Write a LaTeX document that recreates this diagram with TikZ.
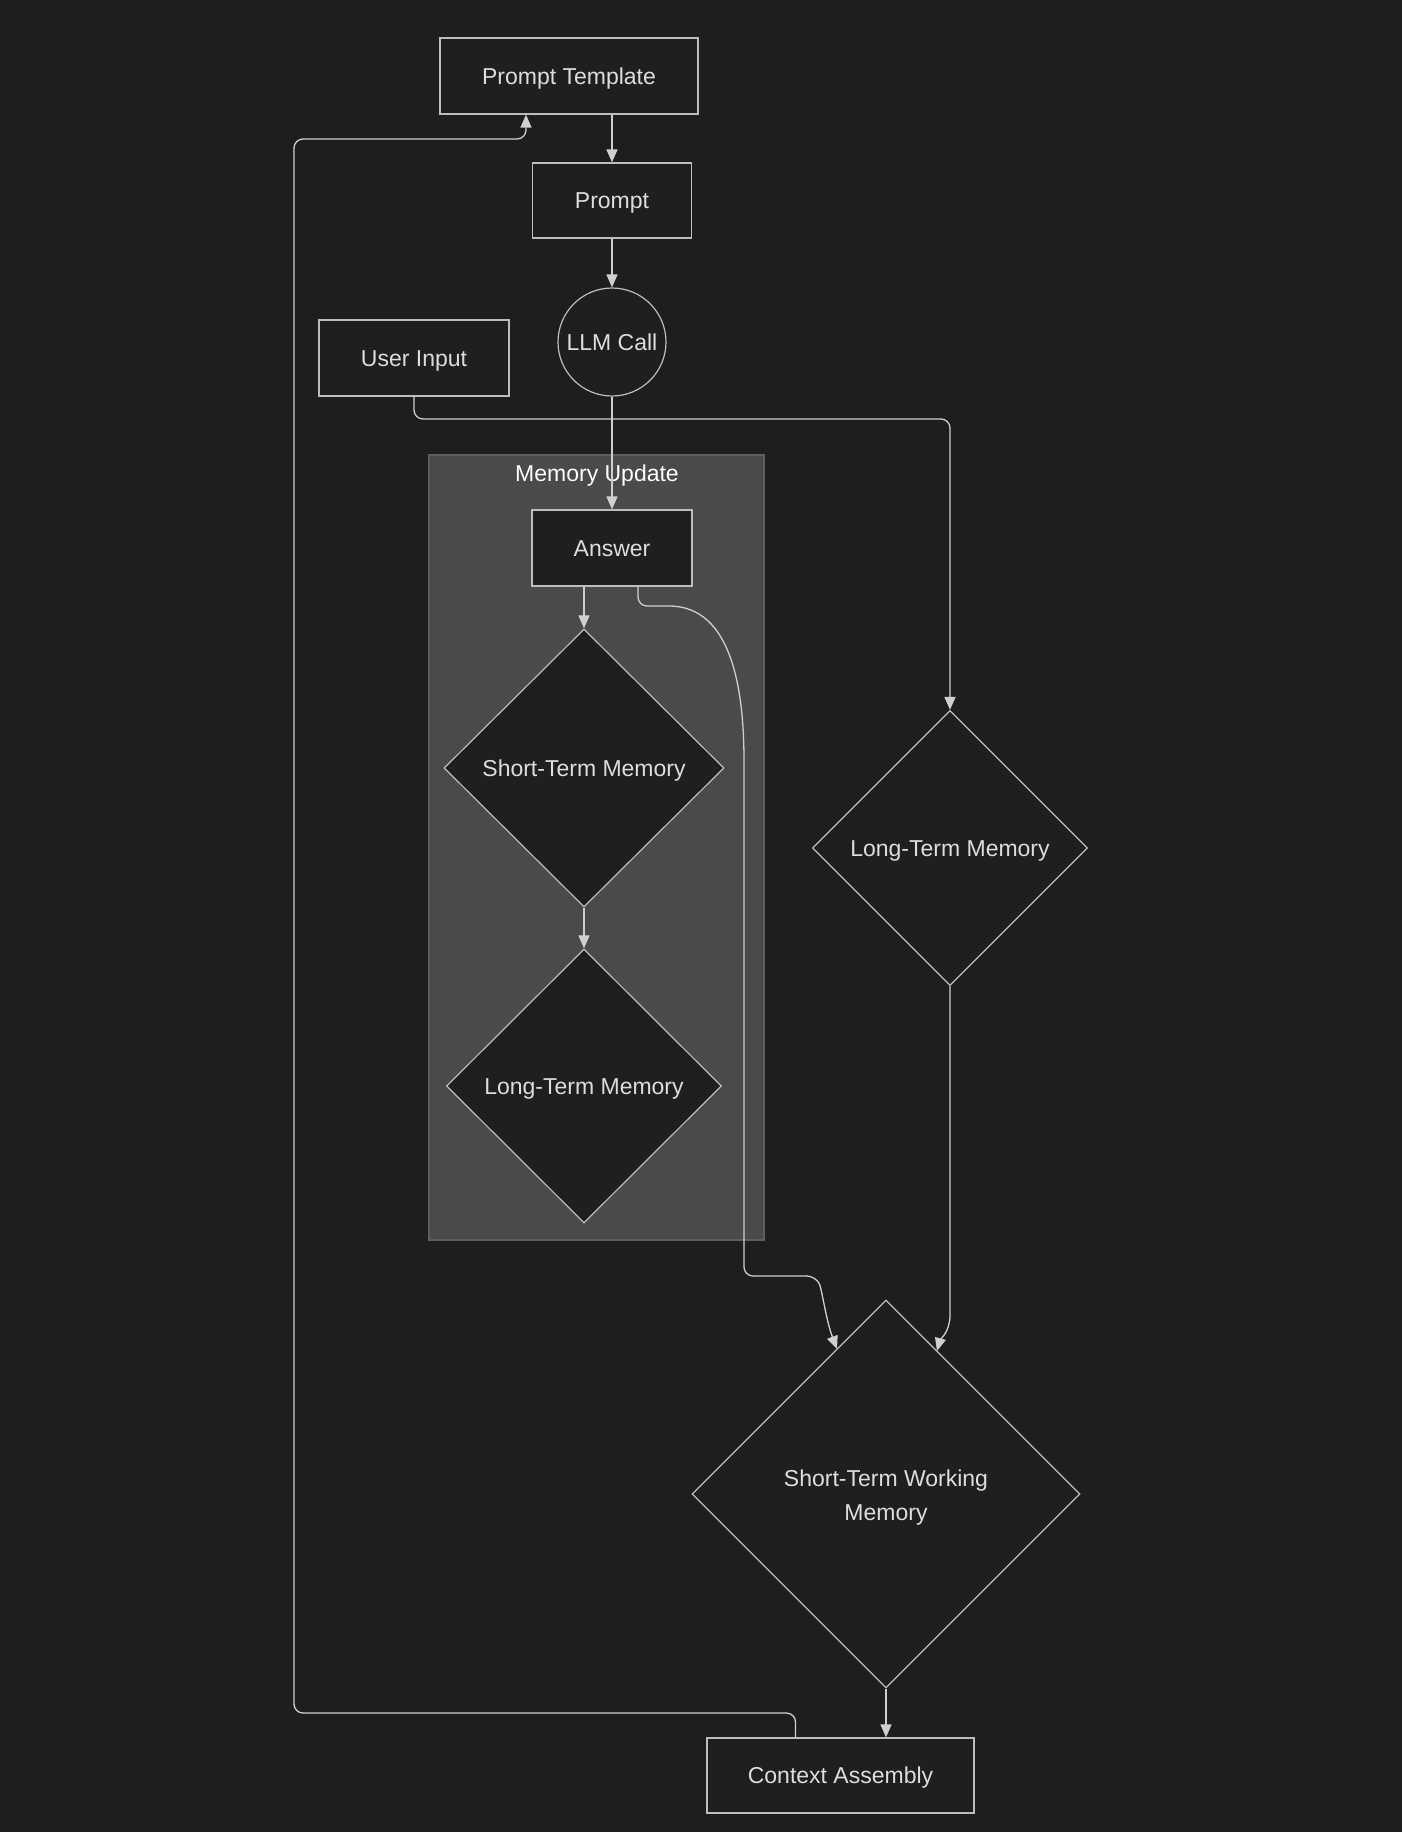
\documentclass[tikz,border=0pt]{standalone}
\usepackage{fontspec}
\setmainfont{Liberation Sans}
\usetikzlibrary{shapes.geometric,arrows.meta}
\definecolor{bg}{HTML}{1E1E1E}
\definecolor{nodefill}{HTML}{1F1F1F}
\definecolor{nodeline}{HTML}{BDBDBD}
\definecolor{edgecol}{HTML}{CFCFCF}
\definecolor{txt}{HTML}{DDDDDD}
\definecolor{clfill}{HTML}{4A4A4A}
\definecolor{clline}{HTML}{5E5E5E}
\newcommand{\ctext}[1]{\raisebox{-8pt}[0pt][0pt]{\makebox[0pt]{#1}}}
\newcommand{\ctextat}[2]{\raisebox{#1}[0pt][0pt]{\makebox[0pt]{#2}}}
\tikzset{
  base/.style={draw=nodeline,fill=nodefill,text=txt,line width=1.2,inner sep=0,
    font=\fontsize{23}{34}\selectfont},
  box/.style={base,rectangle},
  rhomb/.style={base,diamond},
  circ/.style={base,circle,minimum size=108},
  edge/.style={draw=edgecol,line width=1.3,-{Triangle[length=13,width=11]}},
}
\begin{document}
\begin{tikzpicture}[x=1pt,y=-1pt]
\useasboundingbox (0,0) rectangle (1402,1832);
\fill[bg] (0,0) rectangle (1402,1832);
% cluster
\draw[fill=clfill,draw=clline,line width=1.2] (429,455) rectangle (764,1240);
\node[text=white,inner sep=0,font=\fontsize{23}{27}\selectfont] (cl) at (597,473) {\ctext{Memory Update}};
% nodes
\node[box,minimum width=258,minimum height=76] (pt) at (569,76) {\ctext{Prompt Template}};
\node[box,minimum width=159,minimum height=75] (pr) at (612,200.5) {\ctext{Prompt}};
\node[circ] (llm) at (612,342) {\ctext{LLM Call}};
\node[box,minimum width=190,minimum height=76] (ui) at (414,358) {\ctext{User Input}};
\node[box,minimum width=160,minimum height=76] (ans) at (612,548) {\ctext{Answer}};
\node[rhomb,minimum width=280,minimum height=278] (stm) at (584,768) {\ctext{Short-Term Memory}};
\node[rhomb,minimum width=275,minimum height=274] (ltm1) at (584,1086) {\ctext{Long-Term Memory}};
\node[rhomb,minimum width=275,minimum height=275] (ltm2) at (950,848) {\ctext{Long-Term Memory}};
\node[rhomb,minimum width=388,minimum height=388] (stwm) at (886,1494) {\ctextat{8pt}{Short-Term Working}\ctextat{-26pt}{Memory}};
\node[box,minimum width=267,minimum height=75] (ca) at (840.5,1775.5) {\ctext{Context Assembly}};
% edges
\draw[edge] (pt.south -| pr.north) -- (pr.north);
\draw[edge] (pr.south) -- (llm.north);
\draw[edge] (llm.south) -- (ans.north);
\draw[edge] (ans.south -| stm.north) -- (stm.north);
\draw[edge] (stm.south) -- (ltm1.north);
\draw[edge,rounded corners=9] (ui.south) |- (ltm2.north |- 0,419) -- (ltm2.north);
\draw[edge] (ltm2.south) -- (950,1315) .. controls (950,1332) and (940,1340) .. ([shift={(51,-143)}]stwm.center);
\draw[edge,rounded corners=9] ([xshift=26]ans.south) -- (638,606) -- (660,606)
  .. controls (732,606) and (744,690) .. (744,770) -- (744,1276) -- (816,1276)
  .. controls (822,1290) and (826,1320) .. ([shift={(-49,-145)}]stwm.center);
\draw[edge] (stwm.south) -- (stwm.south |- ca.north);
\draw[edge,rounded corners=9] ([xshift=-45]ca.north) -- (795.5,1713) -- (294,1713) -- (294,139) -- (526,139) -- (pt.south -| 526,0);
\end{tikzpicture}
\end{document}
